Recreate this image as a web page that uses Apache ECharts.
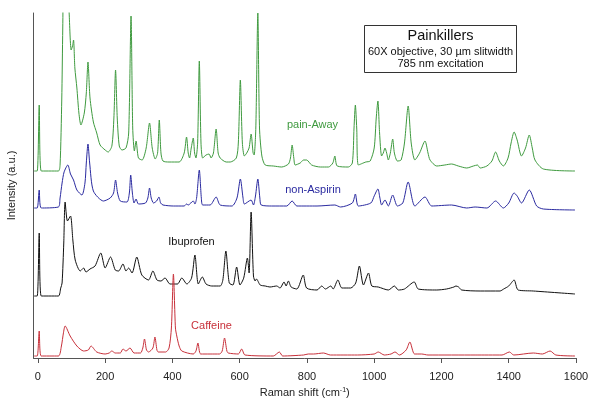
<!DOCTYPE html>
<html>
<head>
<meta charset="utf-8">
<script src="https://cdn.jsdelivr.net/npm/echarts@6/dist/echarts.min.js"></script>
<style>html,body{margin:0;padding:0;background:#fff}#c{width:600px;height:398px}</style>
</head>
<body>
<div id="c"></div>
<script>
// Raman shift (cm-1) vs intensity (a.u., stacked offsets as drawn)
const xTicks = [0, 200, 400, 600, 800, 1000, 1200, 1400, 1600];
const seriesNames = ['pain-Away', 'non-Aspirin', 'Ibuprofen', 'Caffeine'];

const painAway = [[-11,187],[-2,187],[4,253],[10,187],[61,187],[66,193],[71,258],[74,330],[78,420],[86,400],[93,345],[99,308],[103,312],[106,318],[110,290],[116,270],[122,245],[128,233],[138,245],[144,265],[149,296],[155,260],[165,236],[175,225],[185,213],[200,208],[209,206],[220,212],[226,240],[231,288],[236,240],[242,212],[250,208],[262,210],[270,225],[277,342],[282,230],[287,207],[292,217],[299,200],[310,198],[322,210],[332,235],[340,210],[349,199],[356,205],[361,238],[366,205],[372,197],[390,196],[420,196],[435,205],[442,221],[447,205],[451,200],[456,210],[462,220],[466,205],[470,200],[475,215],[480,297],[485,215],[490,200],[500,203],[509,204],[515,200],[522,205],[530,229],[536,205],[542,200],[560,196],[572,196],[590,200],[596,215],[602,278],[608,215],[614,202],[621,205],[628,210],[634,224],[640,205],[643,203],[648,230],[654,345],[659,230],[666,202],[676,193],[700,192],[725,191],[745,194],[751,200],[756,213],[761,200],[765,193],[780,195],[790,198],[799,198],[814,193],[840,191],[864,191],[877,195],[883,202],[890,192],[923,191],[935,195],[940,230],[944,253],[948,230],[953,193],[975,196],[988,197],[1000,210],[1006,240],[1011,257],[1016,225],[1022,202],[1027,205],[1032,210],[1037,205],[1042,198],[1048,205],[1055,219],[1060,205],[1069,197],[1080,198],[1090,215],[1101,252],[1110,215],[1121,198],[1135,205],[1151,217],[1160,205],[1166,198],[1186,192],[1210,193],[1230,194],[1250,192],[1275,190],[1295,192],[1307,193],[1315,190],[1335,192],[1350,197],[1361,206],[1372,197],[1384,192],[1398,200],[1407,215],[1416,226],[1425,218],[1438,202],[1450,210],[1461,223],[1470,210],[1478,198],[1503,189],[1597,187]];

const nonAspirin = [[-11,150],[-2,150],[4,168],[10,150],[61,151],[66,160],[72,175],[78,186],[89,193],[97,184],[106,178],[116,168],[131,163],[140,175],[144,195],[149,214],[154,195],[165,167],[195,157],[215,160],[225,165],[231,178],[237,165],[245,157],[265,156],[272,165],[276,183],[281,165],[286,155],[292,159],[299,154],[320,155],[327,160],[332,170],[337,160],[344,155],[353,157],[360,161],[365,155],[372,153],[403,152],[435,152],[442,154],[447,153],[462,157],[467,154],[472,160],[480,188],[486,160],[490,153],[512,153],[530,161],[542,153],[577,152],[592,160],[602,179],[610,160],[614,154],[634,158],[641,153],[647,162],[654,179],[660,160],[664,153],[695,152],[740,152],[756,157],[770,152],[830,152],[883,153],[900,151],[935,155],[944,164],[953,152],[990,155],[1000,162],[1011,169],[1017,160],[1022,153],[1032,158],[1042,152],[1055,163],[1069,152],[1085,155],[1101,176],[1121,152],[1151,161],[1171,152],[1230,153],[1275,150],[1300,151],[1335,150],[1361,157],[1384,150],[1400,155],[1416,165],[1425,162],[1438,155],[1461,168],[1483,152],[1503,149],[1597,148]];

const ibuprofen = [[-11,62],[-2,62],[4,125],[10,62],[61,62],[68,70],[72,75],[77,115],[81,156],[88,137],[97,142],[104,118],[111,98],[126,87],[136,90],[143,86],[155,89],[170,92],[187,105],[200,90],[216,101],[230,88],[240,87],[253,94],[262,87],[270,90],[280,85],[294,101],[309,83],[329,78],[342,87],[354,78],[366,77],[378,80],[393,74],[415,74],[428,80],[443,74],[457,80],[467,103],[477,74],[489,81],[500,74],[517,72],[542,72],[550,78],[559,107],[569,75],[580,73],[591,91],[601,73],[612,80],[623,100],[628,85],[634,146],[641,82],[646,77],[650,79],[661,73],[676,72],[690,71],[710,72],[720,70],[732,76],[738,72],[745,77],[753,71],[770,69],[789,83],[799,70],[830,68],[844,72],[855,69],[871,72],[878,69],[892,78],[904,70],[930,70],[945,75],[956,92],[968,73],[983,85],[993,72],[1012,71],[1042,68],[1060,72],[1072,68],[1090,69],[1119,76],[1131,69],[1186,68],[1215,69],[1237,71],[1243,72],[1251,71],[1260,68],[1315,67],[1374,67],[1385,69],[1400,72],[1416,78],[1428,68],[1473,67],[1597,64]];

const caffeine = [[-11,2],[-2,2],[4,27],[10,2],[61,2],[70,12],[76,25],[81,32],[96,22],[116,12],[136,7],[150,8],[158,12],[175,6],[200,4],[212,5],[220,7],[230,5],[245,5],[253,9],[262,7],[274,10],[286,5],[305,5],[312,10],[317,19],[323,8],[329,6],[342,10],[348,21],[354,8],[358,6],[380,6],[390,10],[397,30],[403,84],[409,30],[413,22],[420,12],[428,7],[462,4],[470,7],[476,15],[484,4],[512,4],[540,4],[548,7],[555,20],[562,7],[566,5],[596,4],[606,9],[616,3],[700,2],[718,6],[728,2],[790,3],[804,4],[820,4],[849,5],[870,3],[950,3],[1000,4],[1012,6],[1030,3],[1050,4],[1062,6],[1075,3],[1095,8],[1106,16],[1120,4],[1141,4],[1160,3],[1300,3],[1380,3],[1402,6],[1415,3],[1473,5],[1500,4],[1523,7],[1540,3],[1597,2]];

const colors = ['#3f9a3f', '#2a2aa0', '#111111', '#c8303a'];
const seriesData = [painAway, nonAspirin, ibuprofen, caffeine];
const FONT = '"Liberation Sans", Arial, sans-serif';

const chart = echarts.init(document.getElementById('c'), null, {renderer: 'canvas'});
chart.setOption({
  animation: false,
  backgroundColor: '#ffffff',
  grid: {left: 33.5, right: 24, top: 13, bottom: 40, containLabel: false, outerBoundsMode: 'none'},
  xAxis: {
    type: 'value', min: -13, max: 1600,
    name: 'Raman shift (cm{sup|-1})', nameLocation: 'middle', nameGap: 28,
    nameTextStyle: {color: '#222', fontFamily: FONT, fontSize: 11,
      rich: {sup: {fontSize: 7, fontFamily: FONT, color: '#222', verticalAlign: 'top', padding: [0, 0, 6, 0]}}},
    axisLine: {onZero: false, lineStyle: {color: '#555', width: 1}},
    axisTick: {show: true, length: 5, inside: false, customValues: xTicks, lineStyle: {color: '#555'}},
    axisLabel: {customValues: xTicks, formatter: v => String(v), color: '#222', fontFamily: FONT, fontSize: 11, margin: 13},
    splitLine: {show: false}
  },
  yAxis: {
    type: 'value', min: 0, max: 345,
    name: 'Intensity (a.u.)', nameLocation: 'middle', nameGap: 16, nameRotate: 90,
    nameTextStyle: {color: '#222', fontFamily: FONT, fontSize: 11},
    axisLine: {show: true, onZero: false, lineStyle: {color: '#555', width: 1}},
    axisTick: {show: false}, axisLabel: {show: false}, splitLine: {show: false}
  },
  series: seriesData.map((d, i) => ({
    name: seriesNames[i], type: 'line', data: d, showSymbol: false, symbol: 'none',
    clip: true, smooth: 0.25,
    lineStyle: {color: colors[i], width: 1}, z: 2 + i
  })),
  graphic: [
    {type: 'rect', shape: {x: 364.5, y: 25.5, width: 152, height: 47}, style: {fill: '#fff', stroke: '#333', lineWidth: 1}, z: 10},
    {type: 'text', x: 440.5, y: 36, style: {text: 'Painkillers', fill: '#111', font: '14.5px ' + FONT, textAlign: 'center', textVerticalAlign: 'middle'}, z: 11},
    {type: 'text', x: 440.5, y: 52, style: {text: '60X objective, 30 \u00b5m slitwidth', fill: '#111', font: '11px ' + FONT, textAlign: 'center', textVerticalAlign: 'middle'}, z: 11},
    {type: 'text', x: 440.5, y: 63.5, style: {text: '785 nm excitation', fill: '#111', font: '11px ' + FONT, textAlign: 'center', textVerticalAlign: 'middle'}, z: 11},
    {type: 'text', x: 312.5, y: 125, style: {text: seriesNames[0], fill: colors[0], font: '11px ' + FONT, textAlign: 'center', textVerticalAlign: 'middle'}, z: 11},
    {type: 'text', x: 313, y: 190, style: {text: seriesNames[1], fill: colors[1], font: '11px ' + FONT, textAlign: 'center', textVerticalAlign: 'middle'}, z: 11},
    {type: 'text', x: 191.5, y: 242, style: {text: seriesNames[2], fill: colors[2], font: '11px ' + FONT, textAlign: 'center', textVerticalAlign: 'middle'}, z: 11},
    {type: 'text', x: 211.5, y: 326, style: {text: seriesNames[3], fill: colors[3], font: '11px ' + FONT, textAlign: 'center', textVerticalAlign: 'middle'}, z: 11}
  ]
});
</script>
</body>
</html>
